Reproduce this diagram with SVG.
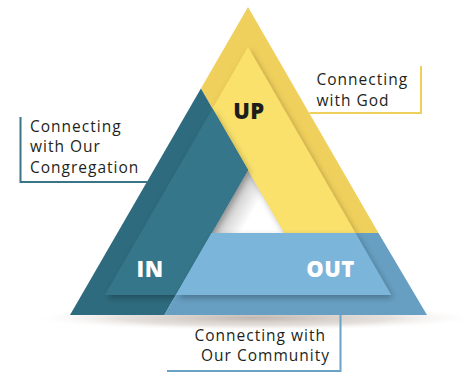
<svg xmlns="http://www.w3.org/2000/svg" width="466" height="374" viewBox="0 0 466 374">
<defs>
<radialGradient id="ground" cx="0.5" cy="0.5" r="0.5">
<stop offset="0" stop-color="#b9aea6" stop-opacity="0.9"/>
<stop offset="0.6" stop-color="#d6cec8" stop-opacity="0.6"/>
<stop offset="1" stop-color="#ffffff" stop-opacity="0"/>
</radialGradient>
<linearGradient id="holeShade" gradientUnits="userSpaceOnUse" x1="230" y1="201" x2="252" y2="214">
<stop offset="0" stop-color="#c4c4c4"/>
<stop offset="1" stop-color="#ffffff"/>
</linearGradient>
<filter id="raise" x="-20%" y="-20%" width="140%" height="140%">
<feDropShadow dx="2" dy="3" stdDeviation="3" flood-color="#000" flood-opacity="0.28"/>
</filter>
</defs>
<style>
.lbl{font-family:"Open Sans","Liberation Sans",sans-serif;font-size:15.5px;letter-spacing:1px;fill:#231f20}
.big{font-family:"Open Sans","Liberation Sans",sans-serif;font-size:22px;font-weight:800;letter-spacing:0.5px}
.yo{fill:#F0D05C}.yi{fill:#F9E16C}
.to{fill:#2E6B7E}.ti{fill:#36768A}
.bo{fill:#679FC2}.bi{fill:#7BB5DA}
.ln{fill:none;stroke-width:2}
</style>
<ellipse cx="255" cy="318" rx="228" ry="13" fill="url(#ground)"/>
<polygon points="248,170 211.6,233 284.4,233" fill="url(#holeShade)"/>
<g id="up">
<polygon class="yo" points="248,7 378.5,233 284.4,233 248,170 200.9,88.5"/>
<polygon class="yi" filter="url(#raise)" points="248,47 355.4,233 284.4,233 248,170 212.5,108.5"/>
<text class="big" x="249" y="119" text-anchor="middle" fill="#1d1d1b">UP</text>
</g>
<g id="in">
<polygon class="to" points="200.9,88.5 248,170 164.3,315 70,315"/>
<polygon class="ti" filter="url(#raise)" points="212.5,108.5 248,170 175.8,295 104.8,295"/>
<text class="big" x="150" y="277" text-anchor="middle" fill="#ffffff">IN</text>
</g>
<g id="out">
<polygon class="bo" points="211.6,233 378.5,233 427,315 164.3,315"/>
<polygon class="bi" filter="url(#raise)" points="211.6,233 355.4,233 391.2,295 175.8,295"/>
<text class="big" x="330.5" y="277" text-anchor="middle" fill="#ffffff">OUT</text>
</g>
<g id="connectors">
<polyline class="ln" stroke="#F0D05C" points="309.5,113 421,113 421,66"/>
<polyline class="ln" stroke="#3C7487" points="147,182 20.5,182 20.5,117"/>
<polyline class="ln" stroke="#6AA3C6" points="167,371 340.5,371 340.5,315"/>
</g>
<g id="label-god">
<text class="lbl" x="316.5" y="85">Connecting</text>
<text class="lbl" x="316.5" y="105.5">with God</text>
</g>
<g id="label-congregation">
<text class="lbl" x="30" y="132">Connecting</text>
<text class="lbl" x="30" y="152">with Our</text>
<text class="lbl" x="30" y="172.5">Congregation</text>
</g>
<g id="label-community">
<text class="lbl" x="326" y="340.5" text-anchor="end">Connecting with</text>
<text class="lbl" x="330" y="361" text-anchor="end">Our Community</text>
</g>
</svg>
